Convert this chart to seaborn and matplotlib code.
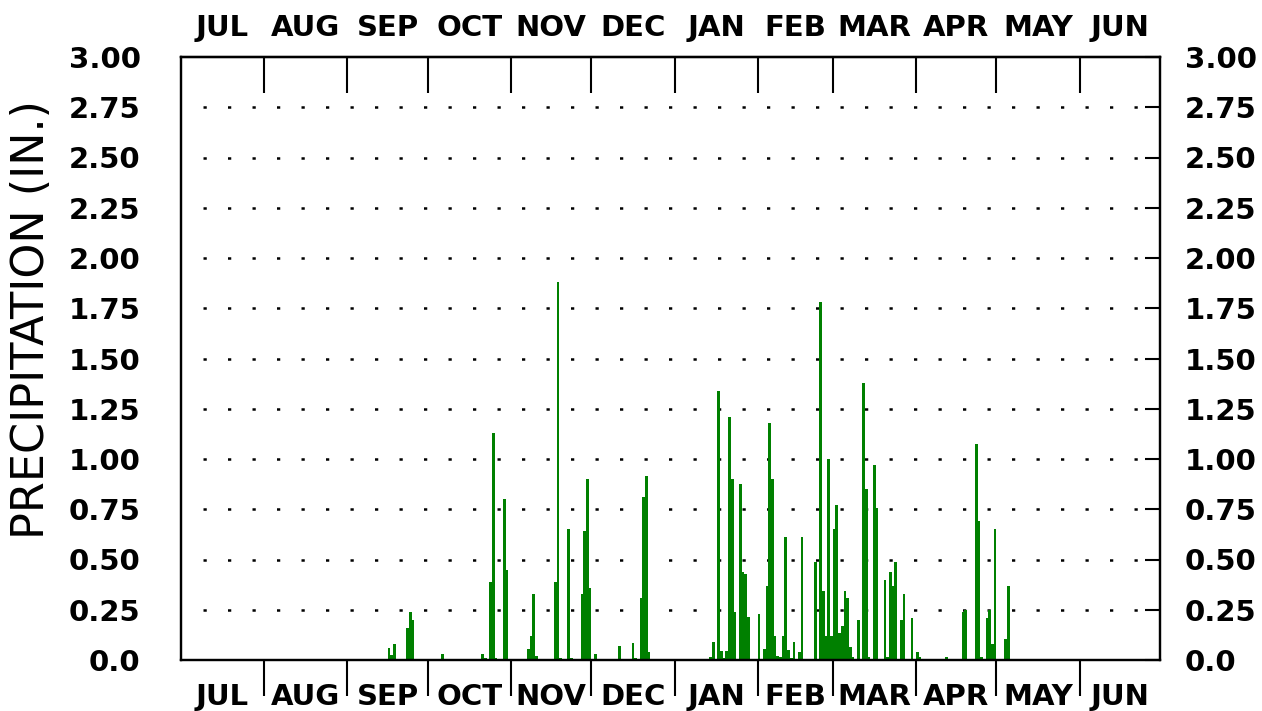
import numpy as np
import pandas as pd
import matplotlib
matplotlib.use("Agg")
import matplotlib.pyplot as plt
import seaborn as sns

# ---------------- data ----------------
month_labels = ["JUL", "AUG", "SEP", "OCT", "NOV", "DEC",
                "JAN", "FEB", "MAR", "APR", "MAY", "JUN"]
month_days = [31, 31, 30, 31, 30, 31, 31, 28, 31, 30, 31, 30]

# day index counted from July 1 (0) and daily precipitation (in.)
rain_days = [77, 78, 79, 84, 85, 86, 97, 112, 113, 115, 116, 117, 120, 121,
             129, 130, 131, 132, 139, 140, 141, 144, 145, 149, 150, 151, 152,
             154, 163, 168, 169, 171, 172, 173, 174,
             197, 198, 200, 201, 202, 203, 204, 205, 206, 208, 209, 210, 211,
             215, 217, 218, 219, 220, 221, 222, 223, 224, 225, 226, 227, 228,
             230, 231, 236, 238, 239, 240, 241, 242, 243, 244, 245, 246, 247,
             248, 249, 250, 252, 254, 255, 256, 258, 259, 262, 263, 264, 265,
             266, 268, 269, 272, 274, 275, 285, 291, 292, 296, 297, 298, 300,
             301, 302, 303, 307, 308]
rain_values = [0.06, 0.025, 0.08, 0.16, 0.24, 0.20, 0.03, 0.03, 0.01, 0.39,
               1.13, 0.01, 0.80, 0.45, 0.055, 0.12, 0.33, 0.02, 0.39, 1.88,
               0.01, 0.65, 0.01, 0.33, 0.64, 0.90, 0.36, 0.03, 0.07, 0.085,
               0.01, 0.31, 0.81, 0.915, 0.04,
               0.015, 0.09, 1.34, 0.045, 0.01, 0.045, 1.21, 0.90, 0.24, 0.875,
               0.44, 0.43, 0.215, 0.23, 0.055, 0.37, 1.18, 0.90, 0.12, 0.02,
               0.015, 0.12, 0.61, 0.05, 0.01, 0.09, 0.04, 0.61, 0.49, 1.78,
               0.345, 0.12, 1.00, 0.12, 0.65, 0.77, 0.135, 0.17, 0.345, 0.31,
               0.065, 0.015, 0.20, 1.38, 0.85, 0.015, 0.97, 0.755, 0.40, 0.015,
               0.44, 0.37, 0.49, 0.20, 0.33, 0.21, 0.04, 0.013, 0.015, 0.24,
               0.25, 1.075, 0.69, 0.015, 0.21, 0.25, 0.08, 0.65, 0.105, 0.37]

y_ticks = [0.0, 0.25, 0.5, 0.75, 1.0, 1.25, 1.5, 1.75, 2.0, 2.25, 2.5, 2.75, 3.0]
y_tick_labels = ["0.0", "0.25", "0.50", "0.75", "1.00", "1.25", "1.50",
                 "1.75", "2.00", "2.25", "2.50", "2.75", "3.00"]
grid_levels = y_ticks[1:-1]

# ---------------- style ----------------
sns.set_style("white")
plt.rcParams["font.family"] = ["DejaVu Sans"]

W, H = 1262, 711
fig = plt.figure(figsize=(W / 100, H / 100), dpi=100)
ax = fig.add_axes([181 / W, 1 - 660 / H, (1160 - 181) / W, (660 - 57) / H])

df = pd.DataFrame({"day": np.array(rain_days) + 0.5, "precip": rain_values})
sns.barplot(data=df, x="day", y="precip", native_scale=True, width=1,
            color="#008000", saturation=1, errorbar=None, linewidth=0, ax=ax)

total_days = sum(month_days)
bounds = np.cumsum([0] + month_days)
centers = (bounds[:-1] + bounds[1:]) / 2
inner = bounds[1:-1]

ax.set_xlim(0, total_days)
ax.set_ylim(0, 3.0)
ax.set_xlabel("")
ax.set_ylabel("")

# dotted grid
ax.hlines(grid_levels, 8.2, total_days, colors="black",
          linestyles=(0, (1.3, 8.5)), linewidth=1.8, zorder=0.5)

for s in ax.spines.values():
    s.set_color("black")
    s.set_linewidth(1.6)

tick_font = dict(fontsize=21, fontweight="bold", color="black")

# bottom month axis
ax.set_xticks(inner)
ax.set_xticklabels([])
ax.set_xticks(centers, minor=True)
ax.set_xticklabels(month_labels, minor=True, **tick_font)
ax.tick_params(axis="x", which="major", direction="out", length=26, width=1.5,
               color="black", bottom=True)
ax.tick_params(axis="x", which="minor", length=0, pad=16.5, bottom=True)

# top month axis
top = ax.secondary_xaxis("top")
top.set_xticks(inner)
top.set_xticklabels([])
top.set_xticks(centers, minor=True)
top.set_xticklabels(month_labels, minor=True, **tick_font)
top.tick_params(axis="x", which="major", direction="in", length=26, width=1.5,
                color="black")
top.tick_params(axis="x", which="minor", length=0, pad=11)
top.spines["top"].set_linewidth(1.6)

# left y axis
ax.set_yticks(y_ticks)
ax.set_yticklabels(y_tick_labels, **tick_font)
ax.tick_params(axis="y", which="both", left=True, length=0, pad=29)

# right y axis
ax2 = ax.twinx()
ax2.set_ylim(0, 3.0)
ax2.set_yticks(y_ticks)
ax2.set_yticklabels(y_tick_labels, **tick_font)
ax2.tick_params(axis="y", direction="in", length=11, width=1.5, color="black",
                pad=18)
for s in ax2.spines.values():
    s.set_color("black")
    s.set_linewidth(1.6)

fig.text(32 / W, 1 - 320 / H, "PRECIPITATION (IN.)", rotation=90,
         ha="center", va="center", fontsize=32, color="black")

fig.savefig("out.png", dpi=100)
